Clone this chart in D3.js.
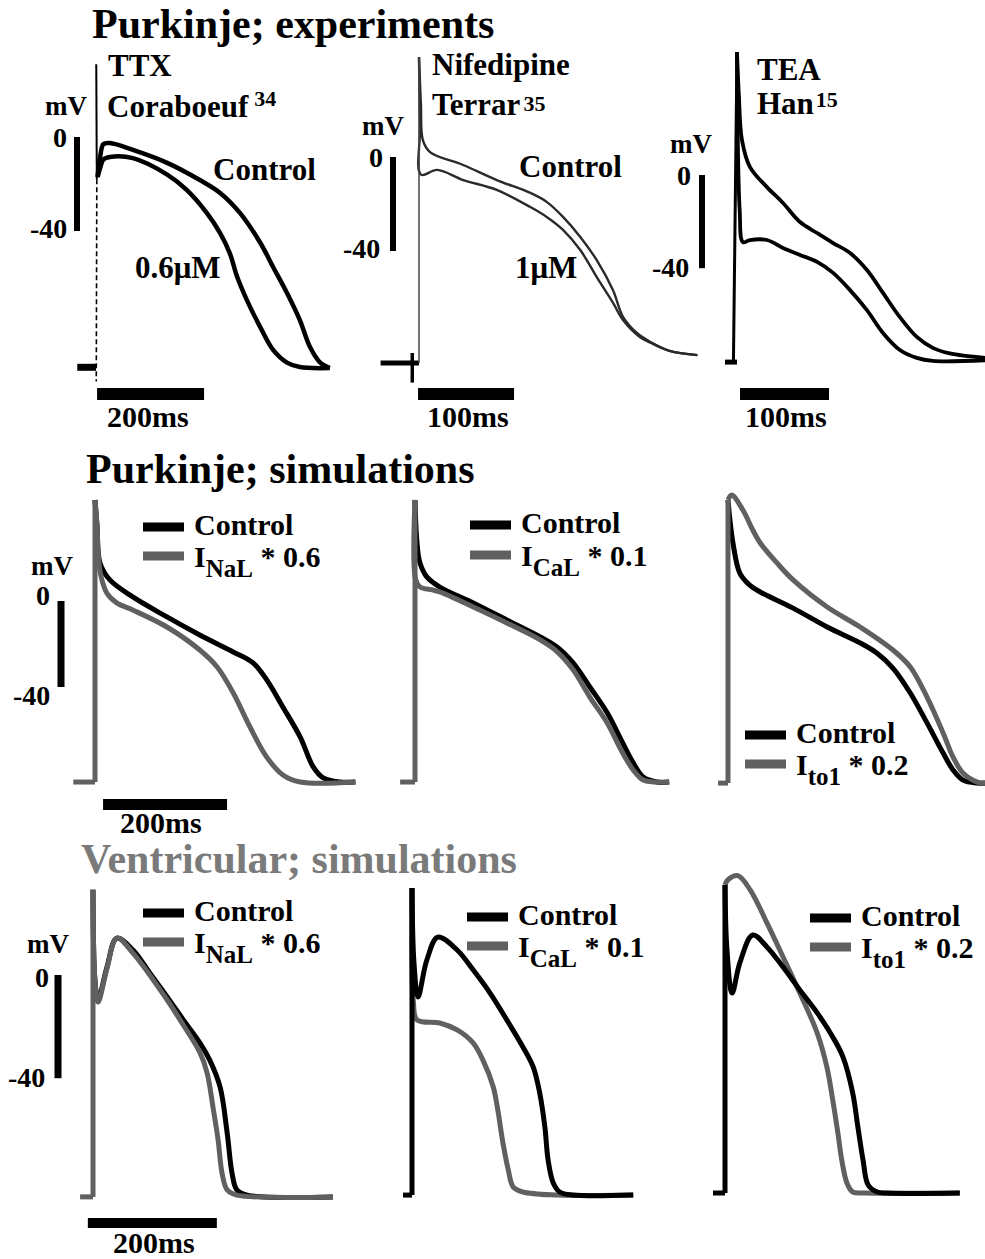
<!DOCTYPE html>
<html>
<head>
<meta charset="utf-8">
<script src="https://cdn.jsdelivr.net/npm/d3@7"></script>
<style>
body { margin: 0; background: #fff; }
text { font-family: "Liberation Serif", "Times New Roman", serif; font-weight: bold; fill: #000; }
</style>
</head>
<body>
<div id="chart"></div>
<script>
// ---- traces, [time ms, membrane potential mV] ----

// Purkinje experiments: TTX (Coraboeuf)
var ttxControl = [[3,-17],[8,-8],[14,-3],[26,-2.6],[69,-5.5],[133,-11],[194,-18.3],[232,-23.8],[269,-32.3],[307,-45],[331,-55.3],[357,-66.4],[381,-77.9],[400,-89.4],[419,-96],[437,-98.3]];
var ttxDrug = [[3,-17],[8,-13],[14,-9.5],[26,-8.5],[69,-9],[133,-16],[170,-22.6],[207,-32.3],[232,-40.9],[250,-49.4],[264,-59.6],[282,-69.4],[307,-80.9],[331,-90.6],[357,-96],[381,-97.9],[437,-98.3]];
var ttxSpike = [[0.5,31],[1.5,-18]];
var ttxUpstroke = [[1.5,-18],[0.5,-104]];

// Purkinje experiments: nifedipine (Terrar)
var nifControl = [[0,42.5],[2,22],[4,7.2],[11.5,2.1],[46,-3.4],[81,-9.8],[116,-15.3],[133,-19.1],[150,-25.5],[168,-34],[185,-43.8],[202,-56.6],[212.5,-68],[227,-74.9],[241,-78.7],[261,-82.5],[290,-84.3]];
var nifDrug = [[0,42.5],[1,12],[2,-7.5],[19,-5.5],[46,-9.8],[81,-14],[116,-21.3],[133,-25.5],[150,-31],[168,-39.6],[185,-51],[202,-62],[212.5,-69.4],[230,-76.6],[241,-79],[261,-82.5],[290,-84.3]];
var nifUpstroke = [[0,-87.7],[0,42.5]];
var nifTick = [[-7,-83.4],[-7,-96]];

// Purkinje experiments: TEA (Han)
var teaUpper = [[0,52.8],[2,35],[5.6,15],[14.6,3.4],[33.7,-5.2],[51.7,-12],[70.8,-20.2],[90,-24.9],[108,-29.2],[127,-33.5],[146,-40.8],[164,-50.6],[183,-61],[202,-69.5],[220,-74.2],[239,-76.6],[279,-78.5]];
var teaLower = [[0,52.8],[3,-15],[6.7,-28.8],[14.6,-27.9],[33.7,-27.9],[51.7,-31.3],[70.8,-34.3],[90,-37.3],[108,-42],[127,-49.4],[146,-58],[164,-67.8],[183,-75.1],[202,-78.5],[220,-79.8],[279,-79.5]];
var teaUpstroke = [[-4,-80.3],[0,52.8]];

// Purkinje simulations
var pkNaControl = [[0,47],[3,36],[8,17.7],[24,9.8],[61,1.9],[116,-7.4],[169,-15.8],[223,-23.7],[255,-28.8],[277,-36.7],[303,-49.3],[331,-63.3],[352,-77.2],[368,-82.3],[395,-84.2],[420,-84.2]];
var pkNaDrug = [[0,47],[3,36],[8,14],[19,3.7],[35,-0.9],[61,-4.2],[116,-12.1],[169,-22.8],[197,-30.7],[223,-42.8],[250,-58.6],[277,-72.6],[303,-80.9],[331,-84.2],[420,-84.2]];
var pkCaControl = [[0,47],[2,32],[5,22],[8,17.7],[19,11.2],[40,6.5],[94,-0.9],[148,-8.8],[202,-16.7],[229,-21.4],[255,-28.8],[282,-40],[310,-52],[335,-66],[352,-75.3],[368,-81.9],[390,-84.2],[410,-84.2]];
var pkCaDrug = [[0,47],[1,10],[8,6.5],[29,5.1],[40,4.2],[94,-2.8],[148,-10.2],[202,-18.1],[229,-23.5],[255,-32],[282,-44.7],[310,-56.7],[335,-70.7],[352,-78.6],[368,-83.3],[390,-84.2],[410,-84.2]];
var pkToControl = [[0,47],[3,38],[8,27],[19,13],[35,7.4],[52,4.2],[105,-3.3],[160,-12.1],[213,-19.5],[240,-24.2],[266,-31.2],[294,-42.8],[321,-56.7],[347,-70.7],[363,-78.6],[379,-83.3],[402,-84.7],[415,-84.7]];
var pkToDrug = [[0,47],[6,49.3],[24,42.3],[40,33],[52,27],[79,17.7],[105,9.8],[160,-2.8],[213,-12.1],[266,-22.8],[294,-30.7],[321,-44.7],[347,-61.4],[363,-72.6],[379,-80],[402,-84.2],[415,-84.7]];

// Ventricular simulations
var vNaControl = [[0,33],[3,-2],[7.8,-9.7],[21.7,3.1],[37,14.3],[62,9.7],[88,0.8],[115,-8.5],[140,-17.4],[166,-26.4],[181,-33],[197,-43.4],[208,-61.2],[215.5,-76.7],[223,-83.3],[239,-85.3],[372,-86]];
var vNaDrug = [[0,33],[3,-2],[7.8,-10.5],[21.7,2.5],[37,14.3],[62,8.5],[115,-9.7],[140,-19.4],[166,-30.2],[177,-38],[186,-51.2],[194,-64],[200,-76.7],[208,-83.3],[223,-85.3],[372,-86]];
var vCaControl = [[0,33.7],[3,5],[9.3,-8.5],[23,5.8],[40,14.7],[70,9.7],[95,1.9],[121,-7],[147,-17.4],[172,-27.9],[188,-35.7],[198,-45.7],[206,-58.9],[211,-71.7],[219,-80.6],[229,-84.1],[250,-85.3],[343,-85.3]];
var vCaDrug = [[0,33.7],[2,-10],[7.8,-17.4],[43,-18.6],[70,-21.3],[95,-26.4],[110,-33],[126,-43.4],[133,-52.3],[141,-65.1],[149,-75.2],[157,-82.2],[172,-84.1],[225,-85.3],[343,-85.3]];
var vToControl = [[0,34.9],[3,10],[11,-7],[23,4.7],[43,15.5],[65,10.9],[90,3.1],[116,-5.8],[143,-14.7],[167,-24],[183,-31.8],[198,-45.7],[206,-58.9],[214,-71.7],[222,-81.4],[236,-84.1],[251,-84.5],[364,-84.5]];
var vToDrug = [[0,35],[5,37],[20,38.5],[39,33],[65,20.2],[90,7],[116,-7],[143,-22.5],[158,-35.7],[167,-48.4],[175,-61.2],[181,-71.7],[189,-80.6],[198,-84.1],[220,-84.5],[364,-84.5]];

// resting potential and start of the pre-stimulus baseline, per panel
var restMv   = [-98, -87.7, -80.3, -84.2, -84.2, -84.7, -86, -85.3, -84.5];
var stubFrom = [-35, -40, -13.5, -35, -24, -16, -20, -14, -18.6];
// scale bars: time bar start (ms) and length (ms)
var timeBarStart = [2, -1, 3.4, 13, null, null, -8, null, null];
var timeBarLen   = [200, 100, 100, 200, null, null, 200, null, null];
var timeBarText  = ["200ms", "100ms", "100ms", "200ms", null, null, "200ms", null, null];

var titles = ["Purkinje; experiments", "Purkinje; simulations", "Ventricular; simulations"];

var black = "#000", grey = "#606060";

var svg = d3.select("#chart").append("svg")
    .attr("width", 985)
    .attr("height", 1259);

// panel layout: pixel origin of t=0 / 0 mV and px per ms / px per mV
var panels = [
  { x0: 96,  msPx: 0.535, y0: 137, mvPx: 2.35, stubW: 7, stubColor: black,
    traces: [{ d: ttxControl, c: black, w: 4.5 }, { d: ttxDrug, c: black, w: 4.5 }],
    straight: [{ d: ttxSpike, c: black, w: 2 }, { d: ttxUpstroke, c: black, w: 1.6, dash: "5,3" }],
    mvBar: { x: 77, w: 6 }, msBarY: 388, msBarH: 12, msTextX: 107, msTextY: 427 },
  { x0: 419, msPx: 0.96, y0: 157, mvPx: 2.35, stubW: 5, stubColor: black,
    traces: [{ d: nifControl, c: "#2a2a2a", w: 2.4 }, { d: nifDrug, c: "#2a2a2a", w: 2.4 }],
    straight: [{ d: nifUpstroke, c: "#444", w: 1.5 }, { d: nifTick, c: black, w: 3.5 }],
    mvBar: { x: 393, w: 6 }, msBarY: 388, msBarH: 12, msTextX: 427, msTextY: 427 },
  { x0: 737, msPx: 0.89, y0: 175, mvPx: 2.33, stubW: 5, stubColor: black,
    traces: [{ d: teaUpper, c: black, w: 3.8 }, { d: teaLower, c: black, w: 3.8 }],
    straight: [{ d: teaUpstroke, c: black, w: 3 }],
    mvBar: { x: 702, w: 6 }, msBarY: 388, msBarH: 12, msTextX: 745, msTextY: 427 },
  { x0: 95, msPx: 0.62, y0: 601, mvPx: 2.15, stubW: 5, stubColor: grey, up: grey,
    traces: [{ d: pkNaControl, c: black, w: 5 }, { d: pkNaDrug, c: grey, w: 5 }],
    mvBar: { x: 61, w: 7 }, msBarY: 799, msBarH: 11, msTextX: 120, msTextY: 833 },
  { x0: 415, msPx: 0.62, y0: 601, mvPx: 2.15, stubW: 5, stubColor: grey, up: grey,
    traces: [{ d: pkCaControl, c: black, w: 5 }, { d: pkCaDrug, c: grey, w: 5 }] },
  { x0: 728, msPx: 0.62, y0: 601, mvPx: 2.15, stubW: 5, stubColor: grey, up: grey,
    traces: [{ d: pkToControl, c: black, w: 5 }, { d: pkToDrug, c: grey, w: 5 }] },
  { x0: 93, msPx: 0.645, y0: 975, mvPx: 2.58, stubW: 5, stubColor: grey, up: grey,
    traces: [{ d: vNaControl, c: black, w: 5 }, { d: vNaDrug, c: grey, w: 5 }],
    mvBar: { x: 58, w: 7 }, msBarY: 1218, msBarH: 10, msTextX: 113, msTextY: 1253 },
  { x0: 412, msPx: 0.645, y0: 975, mvPx: 2.58, stubW: 5, stubColor: black, up: black,
    traces: [{ d: vCaDrug, c: grey, w: 5 }, { d: vCaControl, c: black, w: 5 }] },
  { x0: 725, msPx: 0.645, y0: 975, mvPx: 2.58, stubW: 5, stubColor: black, up: black,
    traces: [{ d: vToDrug, c: grey, w: 5 }, { d: vToControl, c: black, w: 5 }] }
];

panels.forEach(function (p, i) {
    var x = d3.scaleLinear().domain([0, 100]).range([p.x0, p.x0 + 100 * p.msPx]);
    var y = d3.scaleLinear().domain([0, -40]).range([p.y0, p.y0 + 40 * p.mvPx]);
    var smooth = d3.line().x(function (d) { return x(d[0]); }).y(function (d) { return y(d[1]); })
        .curve(d3.curveCatmullRom.alpha(0.5));
    var straight = d3.line().x(function (d) { return x(d[0]); }).y(function (d) { return y(d[1]); });
    var g = svg.append("g").attr("class", "panel");

    p.traces.forEach(function (t) {
        g.append("path").attr("d", smooth(t.d))
            .attr("fill", "none").attr("stroke", t.c).attr("stroke-width", t.w)
            .attr("stroke-linejoin", "round");
    });

    // pre-stimulus baseline
    g.append("path").attr("d", straight([[stubFrom[i], restMv[i]], [0, restMv[i]]]))
        .attr("fill", "none").attr("stroke", p.stubColor).attr("stroke-width", p.stubW);

    // upstroke (simulations: from rest to the first point of the trace)
    if (p.up) {
        var peak = p.traces[0].d[0];
        g.append("path").attr("d", straight([[0, restMv[i]], peak]))
            .attr("fill", "none").attr("stroke", p.up).attr("stroke-width", 5);
    }
    (p.straight || []).forEach(function (s) {
        g.append("path").attr("d", straight(s.d))
            .attr("fill", "none").attr("stroke", s.c).attr("stroke-width", s.w)
            .attr("stroke-dasharray", s.dash || null);
    });

    if (p.mvBar) {
        g.append("rect").attr("x", p.mvBar.x - p.mvBar.w / 2).attr("y", y(0))
            .attr("width", p.mvBar.w).attr("height", y(-40) - y(0)).attr("fill", black);
    }
    if (timeBarStart[i] != null) {
        g.append("rect").attr("x", x(timeBarStart[i])).attr("y", p.msBarY)
            .attr("width", x(timeBarStart[i] + timeBarLen[i]) - x(timeBarStart[i]))
            .attr("height", p.msBarH).attr("fill", black);
        g.append("text").attr("x", p.msTextX).attr("y", p.msTextY)
            .style("font-size", "30px").text(timeBarText[i]);
    }
});

// titles
svg.append("text").attr("x", 92).attr("y", 38).style("font-size", "42px").text(titles[0]);
svg.append("text").attr("x", 86).attr("y", 483).style("font-size", "42px").text(titles[1]);
svg.append("text").attr("x", 81).attr("y", 873).style("font-size", "42px")
    .style("fill", "#7a7a7a").text(titles[2]);

// plain labels: [text, x, y, size]
var labels = [
  ["TTX", 108, 76, 31], ["Control", 213, 180, 31], ["0.6\u03bcM", 135, 278, 31],
  ["mV", 45, 115, 27], ["0", 53, 147, 28], ["-40", 30, 238, 28],
  ["Nifedipine", 432, 75, 31], ["Control", 519, 177, 31], ["1\u03bcM", 515, 278, 31],
  ["mV", 362, 135, 27], ["0", 369, 167, 28], ["-40", 343, 258, 28],
  ["TEA", 757, 80, 31],
  ["mV", 670, 153, 27], ["0", 677, 185, 28], ["-40", 652, 277, 28],
  ["mV", 31, 575, 27], ["0", 36, 605, 28], ["-40", 13, 705, 28],
  ["mV", 27, 953, 27], ["0", 35, 987, 28], ["-40", 8, 1087, 28]
];
labels.forEach(function (l) {
    svg.append("text").attr("x", l[1]).attr("y", l[2]).style("font-size", l[3] + "px").text(l[0]);
});

// source names with reference superscripts: [name, ref, x, y, gap, rise]
var sources = [["Coraboeuf", "34", 107, 117, 6, 11], ["Terrar", "35", 432, 115, 3, 4], ["Han", "15", 757, 114, 2, 7]];
sources.forEach(function (s) {
    var t = svg.append("text").attr("x", s[2]).attr("y", s[3]).style("font-size", "31px");
    t.append("tspan").text(s[0]);
    t.append("tspan").attr("dx", s[4]).attr("dy", -s[5]).style("font-size", "22px").text(s[1]);
});

// legends: bar x, control line y, drug line y, subscript, factor
var legends = [
  { x: 143, yc: 527, yd: 556, sub: "NaL", f: "0.6" },
  { x: 470, yc: 525, yd: 555, sub: "CaL", f: "0.1" },
  { x: 745, yc: 735, yd: 764, sub: "to1", f: "0.2" },
  { x: 143, yc: 913, yd: 942, sub: "NaL", f: "0.6" },
  { x: 467, yc: 917, yd: 946, sub: "CaL", f: "0.1" },
  { x: 810, yc: 918, yd: 947, sub: "to1", f: "0.2" }
];
legends.forEach(function (l) {
    svg.append("rect").attr("x", l.x).attr("y", l.yc - 4.5).attr("width", 41).attr("height", 9).attr("fill", black);
    svg.append("rect").attr("x", l.x).attr("y", l.yd - 4.5).attr("width", 41).attr("height", 9).attr("fill", grey);
    svg.append("text").attr("x", l.x + 51).attr("y", l.yc + 8).style("font-size", "30px").text("Control");
    var t = svg.append("text").attr("x", l.x + 51).attr("y", l.yd + 11).style("font-size", "30px");
    t.append("tspan").text("I");
    t.append("tspan").attr("dy", 10).style("font-size", "25px").text(l.sub);
    t.append("tspan").attr("dy", -10).text(" * " + l.f);
});
</script>
</body>
</html>
